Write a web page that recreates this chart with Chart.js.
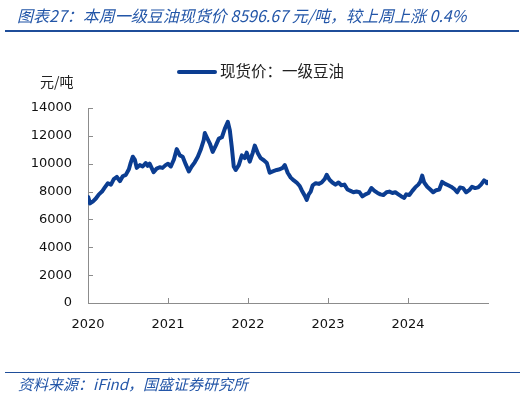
<!DOCTYPE html>
<html>
<head>
<meta charset="utf-8">
<script src="https://cdn.jsdelivr.net/npm/chart.js@4.4.1/dist/chart.umd.min.js"></script>
<style>
  body { margin: 0; background: #fff; }
  #wrap { position: relative; width: 526px; height: 398px; overflow: hidden; }
  #wrap canvas { position: absolute; left: 0; top: 0; }
  .txt { position: absolute; white-space: nowrap; font-family: "Noto Sans CJK SC", "DejaVu Sans", sans-serif; }
  #title { left: 17px; top: 3px; font-size: 16px; font-style: italic; color: #2356a8; }
  #topRule { left: 5px; top: 30px; width: 514px; height: 2px; background: #1f4e9a; }
  #legend { left: 177px; top: 59px; font-size: 15.5px; color: #222; }
  #legend span.swatch { display: inline-block; width: 40px; height: 4px; border-radius: 2px; background: #0b3d91; vertical-align: middle; margin-right: 3px; position: relative; top: -1px; }
  #unit { left: 40px; top: 71px; font-size: 14px; color: #222; }
  #botRule { left: 5px; top: 372px; width: 515px; height: 1px; background: #1f4e9a; }
  #source { left: 18px; top: 373px; font-size: 15px; font-style: italic; color: #2356a8; }
</style>
</head>
<body>
<div id="wrap">
  <canvas id="chart" width="526" height="398"></canvas>
  <div class="txt" id="title">图表27：本周一级豆油现货价 8596.67 元/吨，较上周上涨 0.4%</div>
  <div class="txt" id="topRule"></div>
  <div class="txt" id="legend"><span class="swatch"></span>现货价：一级豆油</div>
  <div class="txt" id="unit">元/吨</div>
  <div class="txt" id="botRule"></div>
  <div class="txt" id="source">资料来源：iFind，国盛证券研究所</div>
</div>
<script>
// Spot price of first-grade soybean oil, yuan/ton
const dates = [
  "2020-01-02", "2020-01-10", "2020-01-24", "2020-02-06", "2020-02-20", "2020-03-05",
  "2020-03-18", "2020-04-01", "2020-04-15", "2020-04-28", "2020-05-12", "2020-05-26",
  "2020-06-08", "2020-06-22", "2020-07-06", "2020-07-15", "2020-07-24", "2020-08-02",
  "2020-08-11", "2020-08-25", "2020-09-07", "2020-09-21", "2020-09-30", "2020-10-09",
  "2020-10-18", "2020-10-27", "2020-11-10", "2020-11-24", "2020-12-07", "2020-12-21",
  "2021-01-01", "2021-01-14", "2021-01-28", "2021-02-10", "2021-02-24", "2021-03-09",
  "2021-03-23", "2021-04-06", "2021-04-19", "2021-05-03", "2021-05-17", "2021-05-30",
  "2021-06-13", "2021-06-18", "2021-06-27", "2021-07-11", "2021-07-24", "2021-08-07",
  "2021-08-21", "2021-09-04", "2021-09-17", "2021-10-01", "2021-10-10", "2021-10-19",
  "2021-10-28", "2021-11-06", "2021-11-20", "2021-12-04", "2021-12-17", "2021-12-26",
  "2022-01-09", "2022-01-23", "2022-02-01", "2022-02-15", "2022-02-28", "2022-03-14",
  "2022-03-28", "2022-04-10", "2022-04-24", "2022-05-12", "2022-05-26", "2022-06-08",
  "2022-06-18", "2022-07-01", "2022-07-15", "2022-07-29", "2022-08-11", "2022-08-25",
  "2022-09-03", "2022-09-17", "2022-09-26", "2022-10-05", "2022-10-14", "2022-10-23",
  "2022-11-06", "2022-11-20", "2022-12-03", "2022-12-17", "2022-12-26",
  "2023-01-08", "2023-01-21", "2023-02-04", "2023-02-18", "2023-03-03", "2023-03-17",
  "2023-03-31", "2023-04-14", "2023-04-27", "2023-05-11", "2023-05-25", "2023-06-07",
  "2023-06-21", "2023-07-05", "2023-07-18", "2023-08-01", "2023-08-15", "2023-08-28",
  "2023-09-11", "2023-09-25", "2023-10-08", "2023-10-22", "2023-11-04", "2023-11-18",
  "2023-12-02", "2023-12-15", "2023-12-24",
  "2024-01-07", "2024-01-21", "2024-02-03", "2024-02-17", "2024-02-26", "2024-03-06",
  "2024-03-15", "2024-03-29", "2024-04-12", "2024-04-25", "2024-05-09", "2024-05-23",
  "2024-06-05", "2024-06-19", "2024-07-03", "2024-07-16", "2024-07-30", "2024-08-13",
  "2024-08-26", "2024-09-09", "2024-09-23", "2024-10-07", "2024-10-20", "2024-11-03",
  "2024-11-17", "2024-11-30", "2024-12-14", "2024-12-23", "2024-12-27"
];
const prices = [
  7600, 7150, 7300, 7500, 7800, 8000,
  8300, 8600, 8500, 8900, 9050, 8750,
  9100, 9200, 9600, 10100, 10500, 10300,
  9700, 9900, 9800, 10050, 9850, 10000,
  9700, 9400, 9650, 9750, 9700, 9900,
  10000, 9800, 10300, 11050, 10600, 10500,
  9950, 9450, 9800, 10100, 10500, 11000,
  11700, 12200, 11900, 11450, 10850, 11300,
  11800, 11900, 12500, 13000, 12400, 11200,
  9800, 9550, 9900, 10600, 10400, 10800,
  10150, 10800, 11300, 10750, 10400, 10250,
  10050, 9350, 9450, 9550, 9600, 9700,
  9900, 9350, 9000, 8800, 8650, 8400,
  8100, 7700, 7400, 7800, 8000, 8450,
  8600, 8550, 8650, 8900, 9200,
  8850, 8650, 8500, 8650, 8450, 8500,
  8150, 8050, 7950, 8000, 7950, 7650,
  7800, 7900, 8250, 8050, 7900, 7800,
  7750, 7950, 8000, 7900, 7950, 7800,
  7650, 7550, 7800,
  7750, 8050, 8300, 8500, 8700, 9150,
  8650, 8350, 8150, 7950, 8100, 8150,
  8700, 8550, 8450, 8350, 8200, 7950,
  8300, 8250, 7950, 8100, 8350, 8250,
  8300, 8500, 8800, 8700, 8597
];
const yearTicks = [2020, 2021, 2022, 2023, 2024];
const seriesName = "现货价：一级豆油";

const lineBlue = "#0b3d91";
const axisGray = "#8c8c8c";

// date string -> fractional year, so a plain linear axis can be used
function toYear(s) {
  const [y, m, d] = s.split("-").map(Number);
  const start = Date.UTC(y, 0, 1);
  const end = Date.UTC(y + 1, 0, 1);
  return y + (Date.UTC(y, m - 1, d) - start) / (end - start);
}

const points = dates.map((d, i) => ({ x: toYear(d), y: prices[i] }));

// tick marks pointing into the plot, like the original
const innerTicks = {
  id: "innerTicks",
  afterDraw(chart) {
    const { ctx, chartArea, scales } = chart;
    ctx.save();
    ctx.strokeStyle = axisGray;
    ctx.lineWidth = 1;
    ctx.beginPath();
    scales.y.ticks.forEach((t) => {
      const py = Math.round(scales.y.getPixelForValue(t.value)) + 0.5;
      ctx.moveTo(chartArea.left, py);
      ctx.lineTo(chartArea.left + 5, py);
    });
    yearTicks.forEach((yr) => {
      if (yr === yearTicks[0]) return;
      const px = Math.round(scales.x.getPixelForValue(yr)) + 0.5;
      ctx.moveTo(px, chartArea.bottom);
      ctx.lineTo(px, chartArea.bottom - 5);
    });
    ctx.stroke();
    ctx.restore();
  },
};

const tickFont = { family: "DejaVu Sans", size: 13 };

new Chart(document.getElementById("chart"), {
  type: "line",
  data: {
    datasets: [
      {
        label: seriesName,
        data: points,
        borderColor: lineBlue,
        borderWidth: 4,
        pointRadius: 0,
        tension: 0,
        borderJoinStyle: "round",
        borderCapStyle: "round",
      },
    ],
  },
  options: {
    responsive: false,
    animation: false,
    layout: { padding: { left: 0, right: 38, top: 108, bottom: 0 } },
    plugins: { legend: { display: false }, tooltip: { enabled: false } },
    scales: {
      x: {
        type: "linear",
        min: 2020,
        max: 2025,
        afterBuildTicks: (scale) => {
          scale.ticks = yearTicks.map((v) => ({ value: v }));
        },
        ticks: {
          color: "#111",
          font: tickFont,
          padding: 14,
          maxRotation: 0,
          callback: (v) => String(v),
        },
        grid: { display: false, drawTicks: false },
        border: { color: axisGray, width: 1 },
        afterFit: (scale) => { scale.height = 95; },
      },
      y: {
        min: 0,
        max: 14000,
        ticks: { stepSize: 2000, color: "#111", font: tickFont, padding: 16, callback: (v) => String(v) },
        grid: { display: false, drawTicks: false },
        border: { color: axisGray, width: 1 },
        afterFit: (scale) => { scale.width = 88; },
      },
    },
  },
  plugins: [innerTicks],
});
</script>
</body>
</html>
